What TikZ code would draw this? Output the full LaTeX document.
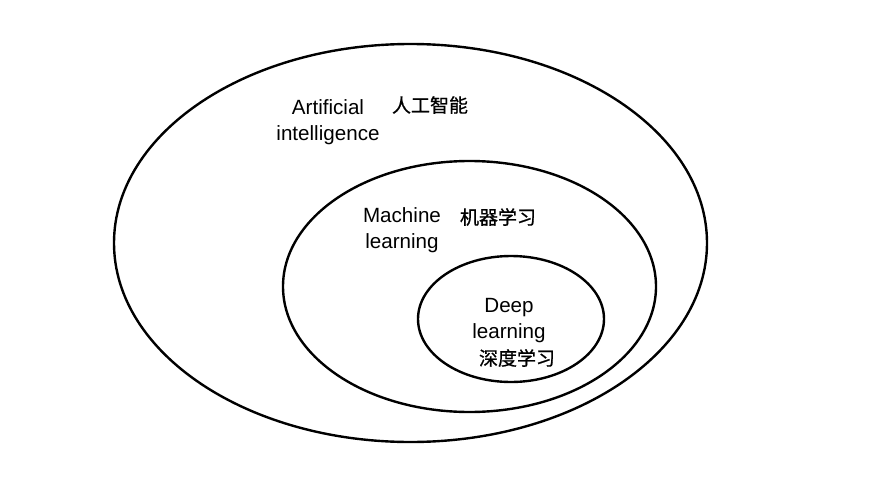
\documentclass[tikz,border=0pt]{standalone}
\usepackage{fontspec}
\setmainfont{Liberation Sans}
\newfontfamily\cjk[FakeBold=0.8]{Noto Sans CJK SC}
\usetikzlibrary{shapes.geometric,positioning}

\tikzset{
  field/.style={draw, ellipse, line width=2.4pt, inner sep=0pt},
  term/.style={align=center, inner sep=0pt, font=\fontsize{20.6}{26}\selectfont},
  zh/.style={inner sep=0pt, font=\cjk\fontsize{19}{24}\selectfont}
}

\begin{document}
\begin{tikzpicture}[x=1pt, y=-1pt]
  \useasboundingbox (0,0) rectangle (892,482);
  % nested fields
  \node[field, minimum width=593pt, minimum height=398pt] (ai) at (410.5,243) {};
  \node[field, minimum width=373pt, minimum height=251pt] (ml) at (469.5,286.5) {};
  \node[field, minimum width=186pt, minimum height=126pt] (dl) at (511,319) {};
  % labels
  \node[term] (aien) at (328,122) {Artificial\\intelligence};
  \node[zh] (aizh) at (430,105) {人工智能};
  \node[term] (mlen) at (402,230.5) {Machine\\learning};
  \node[zh] (mlzh) at (498,217) {机器学习};
  \node[term] (dlen) at (509,320.5) {Deep\\learning};
  \node[zh] (dlzh) at (517,358) {深度学习};
\end{tikzpicture}
\end{document}
